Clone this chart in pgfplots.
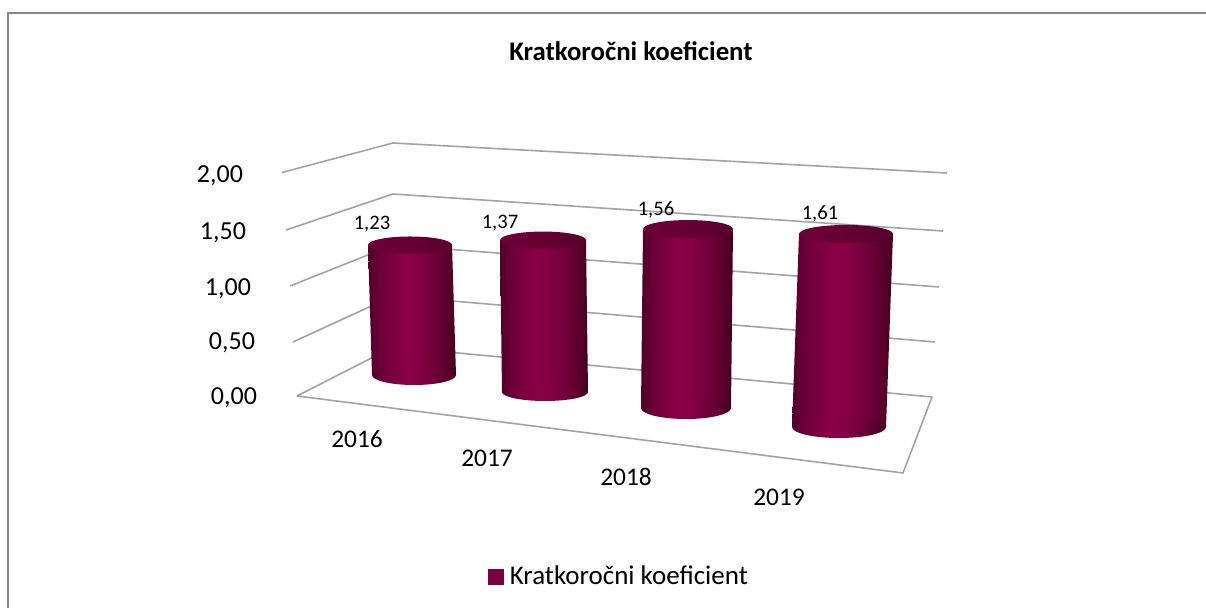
\documentclass[border=0pt]{standalone}
\usepackage{fontspec}
\setmainfont{Carlito}
\usepackage{pgfplots}
\pgfplotsset{compat=1.18}

\definecolor{cA}{HTML}{4F0029}
\definecolor{cB}{HTML}{6A0036}
\definecolor{cC}{HTML}{8A0046}
\definecolor{cD}{HTML}{850044}
\definecolor{cE}{HTML}{6A0036}
\definecolor{cF}{HTML}{45001F}
\definecolor{tA}{HTML}{6C0037}
\definecolor{tB}{HTML}{660033}
\definecolor{tC}{HTML}{58002C}
\definecolor{legc}{HTML}{7B003F}
\definecolor{gridc}{HTML}{A3A3A3}
\definecolor{framec}{HTML}{878787}

\pgfdeclarehorizontalshading{cyl}{100bp}{color(0bp)=(cA); color(25bp)=(cA); color(31bp)=(cB); color(45bp)=(cC); color(52.5bp)=(cD); color(65bp)=(cE); color(75bp)=(cF); color(100bp)=(cF)}
\pgfdeclarehorizontalshading{cyltop}{100bp}{color(0bp)=(tA); color(25bp)=(tA); color(50bp)=(tB); color(75bp)=(tC); color(100bp)=(tC)}

\pgfdeclareplotmark{shadedell}{%
  \pgfpathcircle{\pgfpointorigin}{\pgfplotmarksize}%
  \pgfshadepath{cyl}{0}%
  \pgfusepath{discard}}
\pgfdeclareplotmark{topell}{%
  \pgfpathcircle{\pgfpointorigin}{\pgfplotmarksize}%
  \pgfshadepath{cyltop}{0}%
  \pgfusepath{discard}}

% #1 value, #2 centre x at bottom, #3 centre x at top, #4 base y (px),
% #5 px per unit, #6 radius, #7 bottom ellipse half-height, #8 top ellipse half-height
\newcommand\cylinder[8]{%
  \addplot[forget plot, only marks, mark=shadedell, mark size={#6*0.5pt},
    mark options={yscale=#7/#6}]
    table[row sep=\\, x expr={#2}, y expr={#4}] {d\\ 0\\};
  \addplot[forget plot, draw=none, shade, shading=cyl]
    table[row sep=\\, x expr={#2+\thisrow{t}*(#3-#2)+\thisrow{sx}*#6},
      y expr={#4-\thisrow{t}*#1*#5}] {sx t\\ -1 0\\ 1 0\\ 1 1\\ -1 1\\};
  \addplot[forget plot, only marks, mark=topell, mark size={#6*0.5pt},
    mark options={yscale=#8/#6}]
    table[row sep=\\, x expr={#3}, y expr={#4-#1*#5}] {d\\ 0\\};
}

\newcommand\fmain{\fontsize{13}{15}\selectfont}
\newcommand\fcat{\fontsize{12.7}{15}\selectfont}
\newcommand\fdata{\fontsize{10.3}{12}\selectfont}

\begin{document}
\begin{tikzpicture}
\begin{axis}[
  x=0.5pt, y=0.5pt,
  xmin=0, xmax=1206, ymin=0, ymax=608,
  y dir=reverse,
  hide axis,
  legend style={at={(488/1206,1-577/608)}, anchor=west, draw=none, fill=none,
    inner sep=0pt, outer sep=0pt, nodes={inner sep=0pt, font=\fontsize{13.5}{15}\selectfont},
    column sep=3pt},
]
% invisible extent
\addplot[draw=none, forget plot] coordinates {(0,0) (1206,608)};
% frame
\addplot[framec, line width=1pt, forget plot] coordinates {(8,608) (8,13) (1206,13)};
% walls (value gridlines) and floor
\addplot[gridc, line width=0.8pt, forget plot] coordinates {(282,172.5) (393,143) (947,173)};
\addplot[gridc, line width=0.8pt, forget plot] coordinates {(286,230) (393,194) (943,231)};
\addplot[gridc, line width=0.8pt, forget plot] coordinates {(290,286) (393,245) (939,287)};
\addplot[gridc, line width=0.8pt, forget plot] coordinates {(293,342) (393,296) (935,342)};
\addplot[gridc, line width=0.8pt, forget plot, line join=round] coordinates {(297,396) (393,347) (932,397) (903,473) (297,396)};

% cylinders: values 1.23, 1.37, 1.56, 1.61
\cylinder{1.23}{414}{410}{375}{105.7}{42}{10}{8.5}
\cylinder{1.37}{545}{543}{392}{110.9}{43}{9}{8.5}
\cylinder{1.56}{686}{688}{408}{114.7}{45}{11}{9}
\cylinder{1.61}{839}{846}{427}{119.9}{47}{11}{9}

\addlegendimage{legend image code/.code={\fill[legc] (0pt,-3.75pt) rectangle (7.5pt,3.75pt);}}
\addlegendentry{Kratkoročni koeficient}

% title
\node[anchor=base, font=\bfseries\fontsize{13.4}{15}\selectfont] at (axis cs:631,61) {Kratkoročni koeficient};
% value axis labels
\node[anchor=base east, font=\fmain] at (axis cs:250,183) {2,00};
\node[anchor=base east, font=\fmain] at (axis cs:253,240) {1,50};
\node[anchor=base east, font=\fmain] at (axis cs:258,296) {1,00};
\node[anchor=base east, font=\fmain] at (axis cs:262,350) {0,50};
\node[anchor=base east, font=\fmain] at (axis cs:264,405) {0,00};
% category labels
\node[anchor=base, font=\fcat] at (axis cs:357,448) {2016};
\node[anchor=base, font=\fcat] at (axis cs:487,467) {2017};
\node[anchor=base, font=\fcat] at (axis cs:626,486) {2018};
\node[anchor=base, font=\fcat] at (axis cs:779,506) {2019};
% data labels
\node[anchor=base, font=\fdata] at (axis cs:372,230) {1,23};
\node[anchor=base, font=\fdata] at (axis cs:500,229) {1,37};
\node[anchor=base, font=\fdata] at (axis cs:656,216) {1,56};
\node[anchor=base, font=\fdata] at (axis cs:820,220) {1,61};
\end{axis}
\end{tikzpicture}
\end{document}
